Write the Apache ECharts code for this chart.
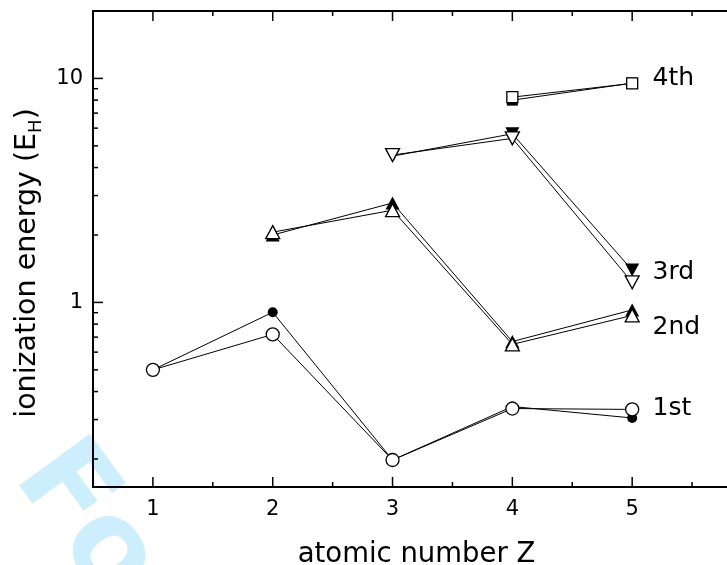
<!DOCTYPE html>
<html><head><meta charset="utf-8">
<script src="https://cdn.jsdelivr.net/npm/echarts@6/dist/echarts.min.js"></script>
<style>html,body{margin:0;padding:0;background:#fff}#c{width:727px;height:565px}</style>
</head><body><div id="c"></div>
<script>
// ---- data ----
const zAll = [1, 2, 3, 4, 5];
const ie1Exp = [0.5, 0.904, 0.198, 0.343, 0.305];
const ie1Calc = [0.5, 0.72, 0.198, 0.336, 0.333];
const z2 = [2, 3, 4, 5];
const ie2Exp = [2.0, 2.78, 0.669, 0.926];
const ie2Calc = [2.06, 2.58, 0.65, 0.875];
const z3 = [3, 4, 5];
const ie3Exp = [4.5, 5.66, 1.394];
const ie3Calc = [4.55, 5.4, 1.23];
const z4 = [4, 5];
const ie4Exp = [8.0, 9.53];
const ie4Calc = [8.25, 9.5];
const xTickLabels = [1, 2, 3, 4, 5];
const yTickLabels = [1, 10];
const xMajorTicks = [1, 2, 3, 4, 5];
const xMinorTicks = [1.5, 2.5, 3.5, 4.5, 5.5];
const yMajorTicks = [1, 10];
const yMinorTicks = [0.2, 0.3, 0.4, 0.5, 0.6, 0.7, 0.8, 0.9, 2, 3, 4, 5, 6, 7, 8, 9];
const seriesLabels = ['1st', '2nd', '3rd', '4th'];
const labelY = [0.335, 0.775, 1.36, 10];
const labelX = 5.17;

const xMin = 0.5, xMax = 5.9, yMin = 0.15, yMax = 20;
const FONT = 'DejaVu Sans';
const K = '#000';

const zip = (xs, ys) => xs.map((x, i) => [x, ys[i]]);

function lineSeries(xs, ys) {
  return { type: 'line', data: zip(xs, ys), symbol: 'none', z: 2, silent: true,
    lineStyle: { color: K, width: 1, opacity: 1 } };
}
function markSeries(xs, ys, symbol, size, filled, rotate, z) {
  return { type: 'scatter', data: zip(xs, ys), symbol: symbol, symbolSize: size,
    symbolRotate: rotate || 0, z: z, silent: true,
    itemStyle: { color: filled ? K : '#fff', borderColor: K, borderWidth: filled ? 0 : 1.3, opacity: 1 } };
}
function tickSeries(vals, kind, len) {
  const data = vals.map(v => kind === 'yl' ? [xMin, v] : [v, kind === 'xb' ? yMin : yMax]);
  return { type: 'custom', data: data, z: 5, silent: true, clip: false,
    renderItem: function (params, api) {
      const p = api.coord([api.value(0), api.value(1)]);
      let s;
      if (kind === 'xb') s = { x1: p[0], y1: p[1], x2: p[0], y2: p[1] - len };
      else if (kind === 'xt') s = { x1: p[0], y1: p[1], x2: p[0], y2: p[1] + len };
      else s = { x1: p[0], y1: p[1], x2: p[0] + len, y2: p[1] };
      return { type: 'line', shape: s, style: { stroke: K, lineWidth: 1.5 } };
    } };
}

const chart = echarts.init(document.getElementById('c'), null, { renderer: 'canvas' });
chart.setOption({
  animation: false,
  backgroundColor: '#fff',
  textStyle: { fontFamily: FONT },
  graphic: [{
    type: 'text', x: 38, y: 458, rotation: -0.94, z: -10, silent: true,
    style: { text: 'For Peer Review', font: 'bold 120px "DejaVu Sans"', fill: '#cdeefc',
      align: 'left', verticalAlign: 'middle' }
  }],
  grid: { left: 93, right: -13, top: 11, bottom: 78, containLabel: false, outerBoundsMode: 'none' },
  xAxis: [{
    type: 'value', min: xMin, max: xMax, interval: 0.5, position: 'bottom',
    axisLine: { show: true, onZero: false, lineStyle: { color: K, width: 2 } },
    axisTick: { show: false }, splitLine: { show: false },
    axisLabel: { color: K, fontSize: 21, fontFamily: FONT, margin: 12,
      showMinLabel: false, showMaxLabel: false,
      formatter: v => xTickLabels.indexOf(v) >= 0 ? String(v) : '' },
    name: 'atomic number Z', nameLocation: 'middle', nameGap: 54,
    nameTextStyle: { color: K, fontSize: 27.5, fontFamily: FONT }
  }, {
    type: 'value', min: xMin, max: xMax, interval: 0.5, position: 'top',
    axisLine: { show: true, onZero: false, lineStyle: { color: K, width: 2 } },
    axisTick: { show: false }, splitLine: { show: false }, axisLabel: { show: false }
  }],
  yAxis: {
    type: 'log', logBase: 10, min: yMin, max: yMax,
    axisLine: { show: true, lineStyle: { color: K, width: 2 } },
    axisTick: { show: false }, splitLine: { show: false }, minorTick: { show: false },
    axisLabel: { color: K, fontSize: 21, fontFamily: FONT, margin: 10,
      showMinLabel: false, showMaxLabel: false,
      formatter: v => yTickLabels.some(t => Math.abs(t - v) < 1e-9) ? String(Math.round(v)) : '' },
    name: 'ionization energy (E{sub|H})', nameLocation: 'middle', nameGap: 48,
    nameTextStyle: { color: K, fontSize: 28.5, fontFamily: FONT, padding: [0, 28, 0, 0],
      rich: { sub: { fontSize: 18, fontFamily: FONT, color: K, padding: [16, 0, 0, 0] } } }
  },
  series: [
    lineSeries(zAll, ie1Exp), lineSeries(zAll, ie1Calc),
    lineSeries(z2, ie2Exp), lineSeries(z2, ie2Calc),
    lineSeries(z3, ie3Exp), lineSeries(z3, ie3Calc),
    lineSeries(z4, ie4Exp), lineSeries(z4, ie4Calc),
    markSeries(zAll, ie1Exp, 'circle', 10, true, 0, 3),
    markSeries(z2, ie2Exp, 'triangle', [14, 13], true, 0, 3),
    markSeries(z3, ie3Exp, 'triangle', [14, 13], true, 180, 3),
    markSeries(z4, ie4Exp, 'rect', 11, true, 0, 3),
    markSeries(zAll, ie1Calc, 'circle', 13, false, 0, 4),
    markSeries(z2, ie2Calc, 'triangle', [14, 13], false, 0, 4),
    markSeries(z3, ie3Calc, 'triangle', [14, 13], false, 180, 4),
    markSeries(z4, ie4Calc, 'rect', 11, false, 0, 4),
    tickSeries(xMajorTicks, 'xb', 10), tickSeries(xMinorTicks, 'xb', 5),
    tickSeries(xMajorTicks, 'xt', 10), tickSeries(xMinorTicks, 'xt', 5),
    tickSeries(yMajorTicks, 'yl', 10), tickSeries(yMinorTicks, 'yl', 5),
    { type: 'scatter', symbolSize: 0, z: 6, silent: true,
      itemStyle: { opacity: 1 },
      data: seriesLabels.map((t, i) => ({ name: t, value: [labelX, labelY[i]] })),
      label: { show: true, position: 'right', distance: 0, formatter: '{b}', opacity: 1,
        color: K, fontSize: 25, fontFamily: FONT, align: 'left', verticalAlign: 'middle' } }
  ]
});
</script></body></html>
